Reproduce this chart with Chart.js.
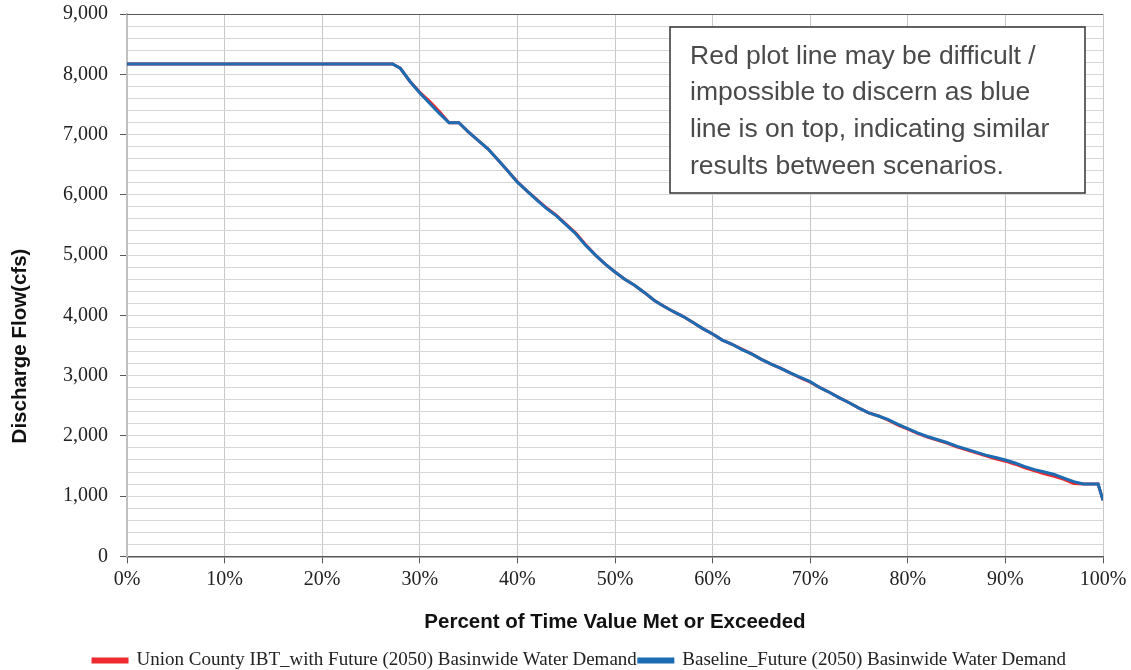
<!DOCTYPE html>
<html>
<head>
<meta charset="utf-8">
<script src="https://cdn.jsdelivr.net/npm/chart.js@4.4.1/dist/chart.umd.min.js"></script>
<style>
  html, body { margin: 0; padding: 0; background: #ffffff; }
  #wrap { position: relative; width: 1131px; height: 670px; }
</style>
</head>
<body>
<div id="wrap"><canvas id="chart" width="1131" height="670"></canvas></div>
<script>
// Flow-duration curves: percent of time exceeded vs discharge (cfs)
const percentExceeded = [0, 27.2, 28, 29, 30, 31, 32, 33, 34, 35, 36, 37, 38, 39, 40,
  41, 42, 43, 44, 45, 46, 47, 48, 49, 50, 51, 52, 53, 54, 55, 56, 57, 58, 59, 60,
  61, 62, 63, 64, 65, 66, 67, 68, 69, 70, 71, 72, 73, 74, 75, 76, 77, 78, 79, 80,
  81, 82, 83, 84, 85, 86, 87, 88, 89, 90, 91, 92, 93, 94, 95, 96, 97, 98, 99.5, 100];

const unionCountyIBT = [8170, 8170, 8100, 7880, 7700, 7550, 7380, 7195, 7195, 7040, 6900, 6760, 6580, 6400, 6215,
  6060, 5920, 5780, 5660, 5510, 5360, 5170, 5000, 4850, 4720, 4600, 4500, 4380, 4250, 4150, 4060, 3980, 3880, 3780, 3690,
  3590, 3520, 3440, 3360, 3270, 3190, 3120, 3040, 2960, 2890, 2800, 2720, 2630, 2550, 2460, 2380, 2330, 2260, 2180, 2110,
  2040, 1980, 1930, 1880, 1820, 1770, 1720, 1670, 1620, 1580, 1530, 1470, 1420, 1370, 1330, 1280, 1210, 1200, 1200, 930];

const baselineFuture = [8170, 8170, 8100, 7880, 7690, 7520, 7350, 7195, 7195, 7040, 6900, 6760, 6580, 6400, 6210,
  6060, 5910, 5770, 5650, 5500, 5350, 5160, 5000, 4850, 4720, 4600, 4500, 4380, 4250, 4150, 4060, 3980, 3880, 3780, 3690,
  3590, 3520, 3430, 3360, 3270, 3190, 3120, 3040, 2970, 2900, 2800, 2720, 2630, 2550, 2460, 2380, 2330, 2270, 2190, 2120,
  2050, 1990, 1940, 1890, 1830, 1780, 1730, 1680, 1640, 1600, 1550, 1490, 1440, 1400, 1360, 1300, 1240, 1200, 1200, 930];

const seriesNames = [
  'Union County IBT_with Future (2050) Basinwide Water Demand',
  'Baseline_Future (2050) Basinwide Water Demand'
];

const yAxisTitle = 'Discharge Flow(cfs)';

const noteLines = [
  'Red plot line may be difficult /',
  'impossible to discern as blue',
  'line is on top, indicating similar',
  'results between scenarios.'
];

const toPoints = (xs, ys) => xs.map((x, i) => ({ x: x, y: ys[i] }));

// Dark frame line along the top of the plot area
const topFrame = {
  id: 'topFrame',
  afterDatasetsDraw(chart) {
    const { ctx, chartArea: a } = chart;
    ctx.save();
    ctx.strokeStyle = '#595959';
    ctx.lineWidth = 1;
    ctx.beginPath();
    ctx.moveTo(a.left, a.top + 0.5);
    ctx.lineTo(a.right, a.top + 0.5);
    ctx.stroke();
    ctx.restore();
  }
};

// Vertical axis title, set lower than the plot's midpoint
const yTitle = {
  id: 'yTitle',
  afterDraw(chart) {
    const { ctx } = chart;
    ctx.save();
    ctx.translate(20, 346);
    ctx.rotate(-Math.PI / 2);
    ctx.fillStyle = '#111111';
    ctx.font = 'bold 20.5px "Liberation Sans", Arial, sans-serif';
    ctx.textAlign = 'center';
    ctx.textBaseline = 'middle';
    ctx.fillText(yAxisTitle, 0, 0);
    ctx.restore();
  }
};

// Boxed note in the upper right of the plot
const noteBox = {
  id: 'noteBox',
  afterDraw(chart) {
    const { ctx } = chart;
    const x = 670, y = 27, w = 415, h = 166;
    ctx.save();
    ctx.fillStyle = '#ffffff';
    ctx.fillRect(x, y, w, h);
    ctx.strokeStyle = '#333333';
    ctx.lineWidth = 1.5;
    ctx.strokeRect(x, y, w, h);
    ctx.fillStyle = '#4a4a4a';
    ctx.font = '26.5px "Liberation Sans", Arial, sans-serif';
    ctx.textBaseline = 'alphabetic';
    ctx.textAlign = 'left';
    noteLines.forEach((line, i) => ctx.fillText(line, x + 20, 63.5 + i * 36.8));
    ctx.restore();
  }
};

new Chart(document.getElementById('chart'), {
  type: 'line',
  data: {
    datasets: [
      {
        label: seriesNames[0],
        data: toPoints(percentExceeded, unionCountyIBT),
        borderColor: '#ee2a2f',
        backgroundColor: '#ee2a2f',
        borderWidth: 3,
        pointRadius: 0,
        tension: 0,
        order: 1
      },
      {
        label: seriesNames[1],
        data: toPoints(percentExceeded, baselineFuture),
        borderColor: '#1c6cb4',
        backgroundColor: '#1c6cb4',
        borderWidth: 3,
        pointRadius: 0,
        tension: 0,
        order: 0
      }
    ]
  },
  options: {
    responsive: false,
    animation: false,
    layout: { padding: { left: 28, right: 0, top: 14, bottom: -10 } },
    plugins: {
      tooltip: { enabled: false },
      legend: {
        position: 'bottom',
        labels: {
          sort: (a, b) => a.datasetIndex - b.datasetIndex,
          boxWidth: 34,
          boxHeight: 3,
          padding: 2,
          color: '#222222',
          font: { family: '"Liberation Serif", "Times New Roman", serif', size: 19 }
        }
      }
    },
    scales: {
      x: {
        type: 'linear',
        min: 0,
        max: 100,
        afterFit: s => { s.paddingRight = 28; },
        ticks: {
          stepSize: 10,
          padding: 4,
          color: '#222222',
          font: { family: '"Liberation Serif", "Times New Roman", serif', size: 20 },
          callback: v => v + '%'
        },
        grid: {
          color: '#c8c8c8',
          lineWidth: 1,
          tickLength: 7,
          tickColor: '#595959'
        },
        border: { color: '#595959', width: 1.5 },
        title: {
          display: true,
          text: 'Percent of Time Value Met or Exceeded',
          color: '#111111',
          font: { family: '"Liberation Sans", Arial, sans-serif', size: 20.5, weight: 'bold' },
          padding: { top: 15, bottom: 14 }
        }
      },
      y: {
        min: 0,
        max: 9000,
        afterFit: s => { s.width = 99; s.paddingTop = 0; s.paddingBottom = 0; },
        ticks: {
          stepSize: 200,
          autoSkip: false,
          padding: 12,
          color: '#222222',
          font: { family: '"Liberation Serif", "Times New Roman", serif', size: 20 },
          callback: v => (v % 1000 === 0 ? v.toLocaleString('en-US') : '')
        },
        grid: {
          color: '#d6d6d6',
          lineWidth: 1,
          tickLength: 7,
          tickColor: ctx => (ctx.tick && ctx.tick.value % 1000 === 0 ? '#595959' : 'rgba(0,0,0,0)')
        },
        border: { color: '#c0c0c0', width: 2 },
        title: { display: false }
      }
    }
  },
  plugins: [topFrame, yTitle, noteBox]
});
</script>
</body>
</html>
